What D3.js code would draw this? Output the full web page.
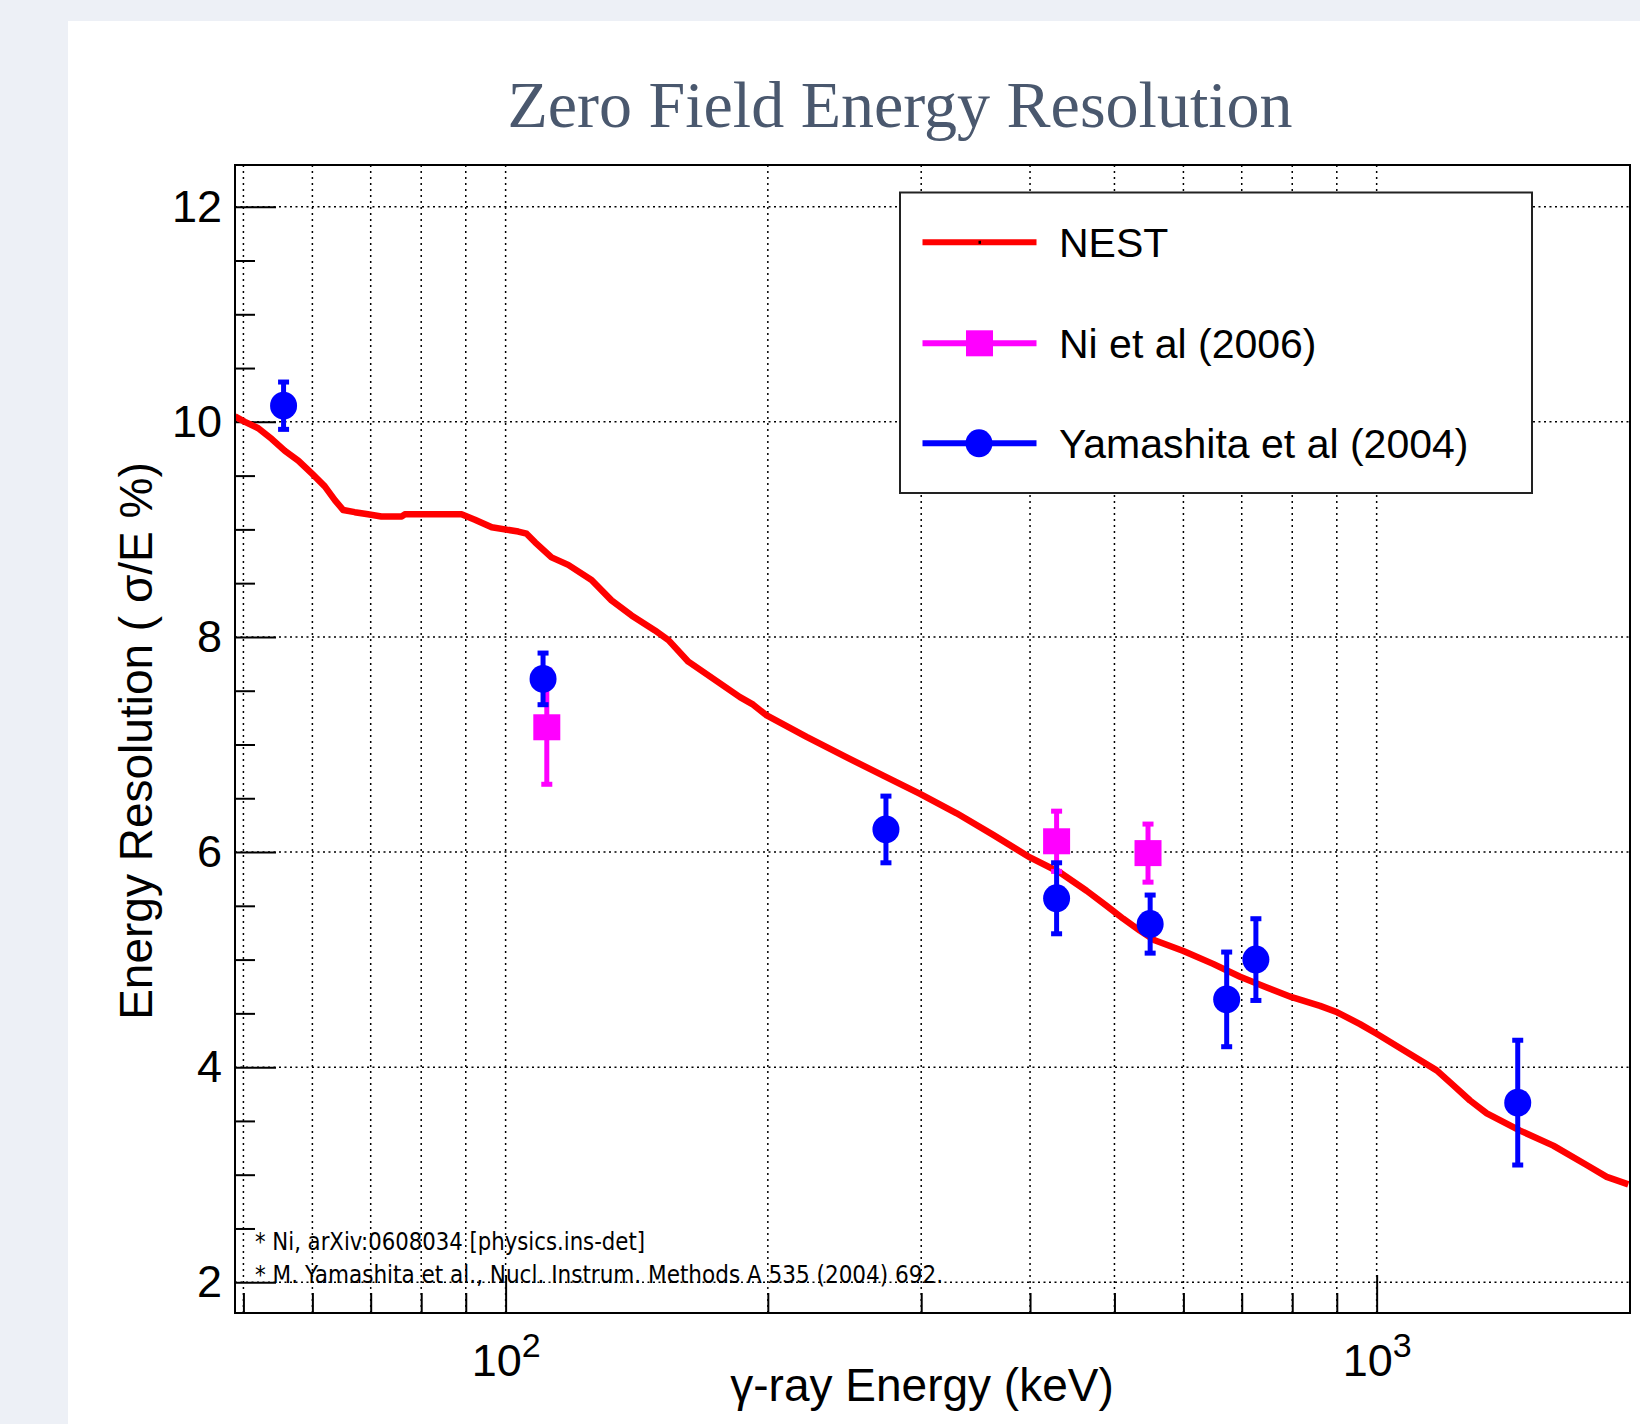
<!DOCTYPE html>
<html><head><meta charset="utf-8">
<script src="https://cdn.jsdelivr.net/npm/d3@7"></script>
<style>
html,body{margin:0;padding:0;background:#edf0f6;}
svg{display:block;}
</style></head><body>
<svg id="chart" width="1640" height="1424"></svg>
<script>
// ---------------- data ----------------
const titleText = "Zero Field Energy Resolution";
const xTitleText = "γ-ray Energy (keV)";
const yTitleText = "Energy Resolution ( σ/E %)";

const nestEnergy = [48.9, 50.2, 52.0, 53.9, 55.8, 57.8, 59.9, 62.0, 63.7, 65.1, 67.1, 69.5, 72.0, 76.0, 76.6, 82.9, 89.0, 92.2, 96.4, 103.4, 105.7, 108.1, 112.9, 118.0, 125.5, 132.3, 139.5, 148.4, 153.8, 162.1, 175.4, 185.8, 192.4, 199.4, 221.6, 246.4, 271.4, 299.1, 329.5, 362.9, 399.9, 433, 464.5, 489.8, 511.7, 534.7, 556, 600, 649, 697, 748, 799, 861, 901, 957, 1000, 1073, 1172, 1225, 1280, 1338, 1461, 1595, 1742, 1837, 1945];
const nestResolution = [10.05, 10.00, 9.94, 9.84, 9.73, 9.64, 9.52, 9.40, 9.27, 9.18, 9.16, 9.14, 9.12, 9.12, 9.14, 9.14, 9.14, 9.09, 9.02, 8.98, 8.96, 8.88, 8.74, 8.67, 8.53, 8.34, 8.20, 8.06, 7.97, 7.77, 7.58, 7.44, 7.37, 7.27, 7.07, 6.88, 6.71, 6.54, 6.36, 6.16, 5.95, 5.81, 5.64, 5.50, 5.38, 5.27, 5.18, 5.08, 4.96, 4.84, 4.74, 4.65, 4.57, 4.51, 4.40, 4.31, 4.16, 3.97, 3.83, 3.69, 3.57, 3.41, 3.27, 3.09, 2.98, 2.91];

const niEnergy = [111.5, 429.1, 546.4];
const niResolution = [7.16, 6.10, 5.99];
const niError = [0.53, 0.28, 0.27];

const yamEnergy = [55.6, 110.4, 273.3, 429.1, 549.5, 672.7, 726.7, 1452];
const yamResolution = [10.15, 7.61, 6.21, 5.57, 5.33, 4.63, 5.00, 3.67];
const yamError = [0.22, 0.24, 0.31, 0.33, 0.27, 0.44, 0.38, 0.58];

const xMajorTicks = [100, 1000];
const xMajorExponents = ["2", "3"];
const xMinorTicks = [50, 60, 70, 80, 90, 200, 300, 400, 500, 600, 700, 800, 900];
const yMajorTicks = [2, 4, 6, 8, 10, 12];
const yMinorTicks = [2.5, 3, 3.5, 4.5, 5, 5.5, 6.5, 7, 7.5, 8.5, 9, 9.5, 10.5, 11, 11.5];

const legendLabels = ["NEST", "Ni et al (2006)", "Yamashita et al (2004)"];
const footnotes = ["* Ni, arXiv:0608034 [physics.ins-det]",
                   "* M. Yamashita et al., Nucl. Instrum. Methods A 535 (2004) 692."];

// ---------------- layout ----------------
const L = 235, R = 1630, T = 165, B = 1313;
const SANS = "'Liberation Sans', Arial, Helvetica, sans-serif";
const RED = "#ff0000", MAG = "#ff00ff", BLUE = "#0000ff";

const svg = d3.select("#chart");
svg.append("rect").attr("x", 68).attr("y", 21).attr("width", 1640 - 68).attr("height", 1424 - 21).attr("fill", "#ffffff");

svg.append("text").attr("x", 900).attr("y", 126.5).attr("text-anchor", "middle")
  .attr("font-family", "'Liberation Serif', 'Times New Roman', serif").attr("font-size", 66)
  .attr("fill", "#4a586e").text(titleText);

const x = d3.scaleLog().domain([48.9, 1953.7]).range([L, R]);
const y = d3.scaleLinear().domain([1.714, 12.388]).range([B, T]);

svg.append("defs").append("clipPath").attr("id", "plotclip")
  .append("rect").attr("x", L).attr("y", T).attr("width", R - L).attr("height", B - T);

// grid
const grid = svg.append("g").attr("stroke", "#000").attr("stroke-width", 1.5).attr("fill", "none");
grid.selectAll("line.v").data(xMinorTicks.concat(xMajorTicks)).join("line").attr("class", "v")
  .attr("x1", d => x(d)).attr("x2", d => x(d)).attr("y1", T).attr("y2", B)
  .attr("stroke-dasharray", "2,4");
grid.selectAll("line.h").data(yMajorTicks).join("line").attr("class", "h")
  .attr("x1", L).attr("x2", R).attr("y1", d => y(d)).attr("y2", d => y(d))
  .attr("stroke-dasharray", "2,3.5");

// axes
function styleAxis(g) {
  g.select(".domain").remove();
  g.selectAll(".tick line").attr("stroke", "#000").attr("stroke-width", 2);
  g.selectAll("text").attr("font-family", SANS).attr("font-size", 45).attr("fill", "#000");
}
svg.append("g").attr("transform", `translate(${L},0)`)
  .call(d3.axisLeft(y).tickValues(yMajorTicks).tickSizeInner(-41).tickSizeOuter(0).tickPadding(13).tickFormat(d3.format("d")))
  .call(styleAxis);
svg.append("g").attr("transform", `translate(${L},0)`)
  .call(d3.axisLeft(y).tickValues(yMinorTicks).tickSizeInner(-20).tickSizeOuter(0).tickFormat(""))
  .call(styleAxis);
const xAx = svg.append("g").attr("transform", `translate(0,${B})`)
  .call(d3.axisBottom(x).tickValues(xMajorTicks).tickSizeInner(-38).tickSizeOuter(0).tickPadding(31).tickFormat(() => "10"))
  .call(styleAxis);
xAx.selectAll(".tick text").each(function (d, i) {
  d3.select(this).append("tspan").attr("dy", -19).attr("font-size", 34).text(xMajorExponents[i]);
});
svg.append("g").attr("transform", `translate(0,${B})`)
  .call(d3.axisBottom(x).tickValues(xMinorTicks).tickSizeInner(-20).tickSizeOuter(0).tickFormat(""))
  .call(styleAxis);

// NEST curve
const plot = svg.append("g").attr("clip-path", "url(#plotclip)");
const nestData = nestEnergy.map((e, i) => [e, nestResolution[i]]);
plot.append("path").datum(nestData)
  .attr("d", d3.line().x(d => x(d[0])).y(d => y(d[1])))
  .attr("fill", "none").attr("stroke", RED).attr("stroke-width", 6.5).attr("stroke-linejoin", "round");

// error bars + markers
function drawSeries(E, V, Err, color, shape) {
  const g = plot.append("g");
  const data = E.map((e, i) => ({ e, v: V[i], err: Err[i] }));
  g.selectAll("line.bar").data(data).join("line")
    .attr("x1", d => x(d.e)).attr("x2", d => x(d.e))
    .attr("y1", d => y(d.v + d.err)).attr("y2", d => y(d.v - d.err))
    .attr("stroke", color).attr("stroke-width", 5);
  const caps = data.flatMap(d => [{ e: d.e, v: d.v + d.err }, { e: d.e, v: d.v - d.err }]);
  g.selectAll("rect.cap").data(caps).join("rect")
    .attr("x", d => x(d.e) - 5.5).attr("y", d => y(d.v) - 2.5).attr("width", 11).attr("height", 5)
    .attr("fill", color);
  if (shape === "square") {
    g.selectAll("rect.m").data(data).join("rect")
      .attr("x", d => x(d.e) - 13.5).attr("y", d => y(d.v) - 13).attr("width", 27).attr("height", 26)
      .attr("fill", color);
  } else {
    g.selectAll("ellipse.m").data(data).join("ellipse")
      .attr("cx", d => x(d.e)).attr("cy", d => y(d.v)).attr("rx", 13.5).attr("ry", 14)
      .attr("fill", color);
  }
}
drawSeries(niEnergy, niResolution, niError, MAG, "square");
drawSeries(yamEnergy, yamResolution, yamError, BLUE, "circle");

// frame
svg.append("rect").attr("x", L).attr("y", T).attr("width", R - L).attr("height", B - T)
  .attr("fill", "none").attr("stroke", "#000").attr("stroke-width", 2);

// legend
const leg = svg.append("g");
leg.append("rect").attr("x", 900).attr("y", 192.5).attr("width", 632).attr("height", 300.5)
  .attr("fill", "#fff").attr("stroke", "#222").attr("stroke-width", 2);
const legColors = [RED, MAG, BLUE];
const legY = [242.3, 343.3, 443.3];
legendLabels.forEach((lab, i) => {
  const cy = legY[i];
  leg.append("line").attr("x1", 922.5).attr("x2", 1036.5).attr("y1", cy).attr("y2", cy)
    .attr("stroke", legColors[i]).attr("stroke-width", 6);
  if (i === 0) {
    leg.append("rect").attr("x", 978.5).attr("y", cy - 1.5).attr("width", 2.5).attr("height", 3).attr("fill", "#000");
  } else if (i === 1) {
    leg.append("rect").attr("x", 979.5 - 13.5).attr("y", cy - 13).attr("width", 27).attr("height", 26).attr("fill", MAG);
  } else {
    leg.append("ellipse").attr("cx", 979).attr("cy", cy).attr("rx", 13.5).attr("ry", 14).attr("fill", BLUE);
  }
  leg.append("text").attr("x", 1059).attr("y", cy + 15).attr("font-family", SANS).attr("font-size", 41)
    .attr("fill", "#000").text(lab);
});

// axis titles
svg.append("text").attr("x", 922).attr("y", 1401).attr("text-anchor", "middle")
  .attr("font-family", SANS).attr("font-size", 46).attr("fill", "#000").text(xTitleText);
svg.append("text").attr("transform", "translate(152,741) rotate(-90)").attr("text-anchor", "middle")
  .attr("font-family", SANS).attr("font-size", 46).attr("fill", "#000").text(yTitleText);

// footnotes
const fnWidths = [390, 688];
const fnY = [1250, 1283];
footnotes.forEach((t, i) => {
  svg.append("text").attr("x", 255).attr("y", fnY[i])
    .attr("font-family", "'Liberation Sans Narrow', 'DejaVu Sans Condensed', 'Liberation Sans', sans-serif")
    .attr("font-size", 24).attr("fill", "#000")
    .attr("textLength", fnWidths[i]).attr("lengthAdjust", "spacingAndGlyphs").text(t);
});
</script>
</body></html>
